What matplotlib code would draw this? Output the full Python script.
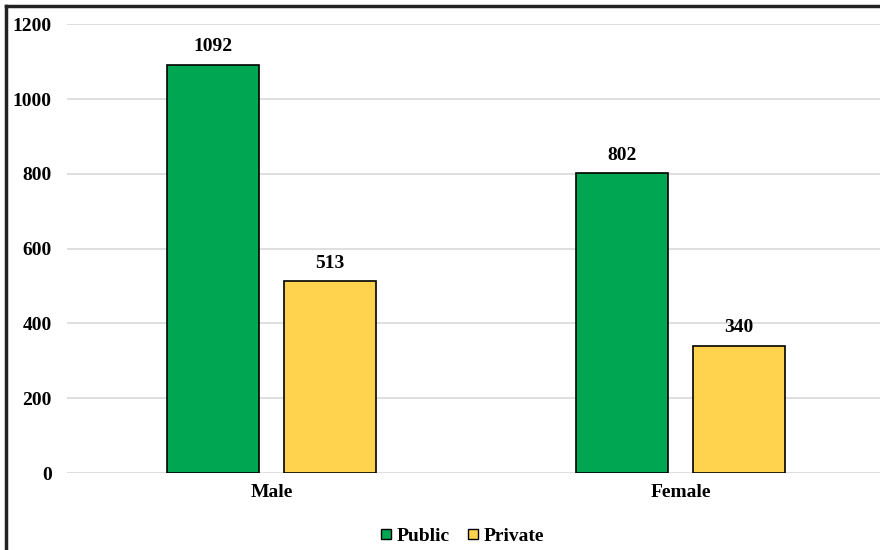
import matplotlib.pyplot as plt
import numpy as np
from matplotlib.lines import Line2D

categories = ["Male", "Female"]
public = [1092, 802]
private = [513, 340]

plt.rcParams['font.family'] = ['Liberation Serif', 'DejaVu Serif']
plt.rcParams['font.weight'] = 'bold'

fig = plt.figure(figsize=(8.8, 5.5), dpi=100)
ax = fig.add_axes([0.076, 0.14, 0.93, 0.816])

x = np.arange(len(categories))
w = 0.225
off = 0.143
b1 = ax.bar(x - off, public, w, color="#00A651", edgecolor="black", linewidth=1.2, label="Public", zorder=3)
b2 = ax.bar(x + off, private, w, color="#FFD34E", edgecolor="black", linewidth=1.2, label="Private", zorder=3)

for bars in (b1, b2):
    for b in bars:
        ax.text(b.get_x() + b.get_width() / 2, b.get_height() + 25, str(int(b.get_height())),
                ha="center", va="bottom", fontsize=14, fontweight="bold")

ax.set_xlim(-0.5, 1.5)
ax.set_ylim(0, 1200)
ax.set_yticks(range(0, 1201, 200))
ax.set_xticks(x)
ax.set_xticklabels(categories)
ax.tick_params(axis="both", length=0, labelsize=14, pad=8)
ax.tick_params(axis="y", pad=11)
ax.yaxis.grid(True, color="#d9d9d9", linewidth=1.2, zorder=0)
for s in ax.spines.values():
    s.set_visible(False)

handles = [Line2D([], [], marker="s", linestyle="none", markersize=7, markerfacecolor=c,
                  markeredgecolor="black", markeredgewidth=1.0) for c in ("#00A651", "#FFD34E")]
fig.legend(handles, ["Public", "Private"], loc="center", bbox_to_anchor=(0.517, 0.025),
           ncol=2, frameon=False, fontsize=14, handletextpad=-0.45, columnspacing=0.2)

# frame lines on the left and top
fig.add_artist(Line2D([0.007, 0.007], [0, 0.989], color="#222222", linewidth=2.5))
fig.add_artist(Line2D([0.007, 1.0], [0.989, 0.989], color="#222222", linewidth=2.5))

fig.savefig("out.png", dpi=100)
